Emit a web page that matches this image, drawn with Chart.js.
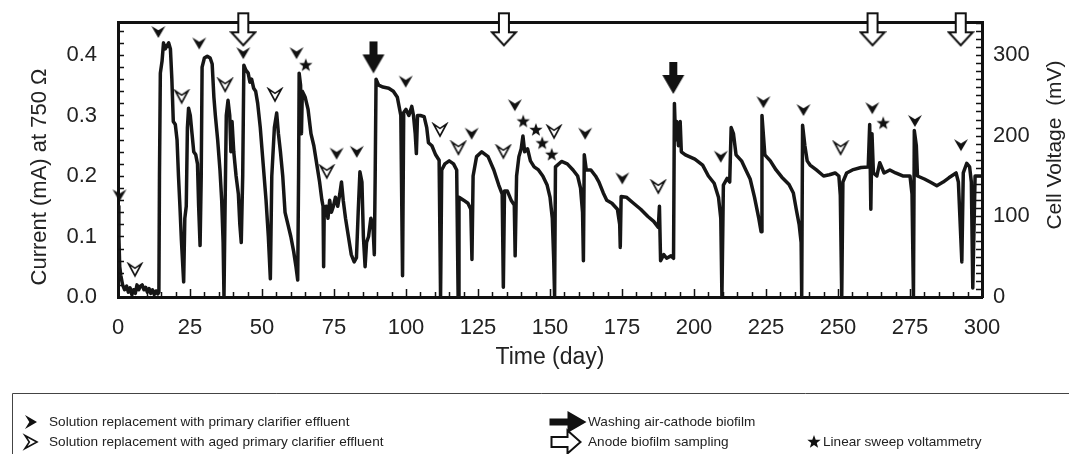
<!DOCTYPE html>
<html><head><meta charset="utf-8">
<script src="https://cdn.jsdelivr.net/npm/chart.js@4.4.1/dist/chart.umd.min.js"></script>
<style>html,body{margin:0;padding:0;background:#fff;}canvas{display:block;}</style>
</head><body>
<canvas id="c" width="1069" height="454"></canvas>
<script>
// ---- data ----
const days = [0,0.3,0.6,1.0,1.6,2.3,3.0,3.6,4.2,4.8,5.4,6.0,6.6,7.2,7.8,8.4,9.0,9.6,10.2,10.8,11.4,12.0,12.6,13.2,13.8,14.2,
14.4,14.7,15.3,15.8,16.4,17.0,17.6,18.2,18.7,19.2,19.9,20.5,21.0,21.5,22.0,22.8,23.2,23.7,24.1,24.5,25.1,25.7,26.3,27.0,27.6,28.0,28.5,
28.9,29.2,30.0,31.0,32.0,32.7,33.3,33.8,34.6,35.4,36.0,36.5,36.8,37.1,37.6,38.2,38.8,39.2,39.6,40.2,41.0,41.8,42.3,42.8,
43.3,43.7,44.4,45.2,45.8,46.4,47.1,47.8,48.5,49.4,50.4,51.4,52.2,52.9,53.4,54.3,55.1,55.7,56.4,57.2,58.0,59.0,60.0,61.0,61.8,62.4,
62.7,62.9,63.4,63.7,64.0,65.0,66.0,67.0,68.0,69.0,70.0,70.8,71.2,71.4,71.6,72.3,72.9,73.5,74.1,74.8,75.5,76.3,77.0,77.6,78.2,79.0,80.0,81.0,82.0,82.8,
83.4,84.0,84.7,85.2,85.8,86.3,87.0,87.8,88.5,89.0,89.3,89.6,90.5,92.0,94.0,95.6,97.0,98.2,98.8,99.2,100.0,101.0,102.0,102.6,103.2,103.6,104.0,
105.0,106.3,107.2,107.8,109.0,110.3,111.5,112.0,112.4,113.5,115.0,116.5,117.6,118.1,118.4,120.0,121.5,122.5,122.9,123.3,124.5,126.3,128.5,130.5,
132.2,133.4,133.8,134.2,135.2,136.5,137.6,137.9,138.4,139.2,140.0,140.6,141.2,142.2,143.2,144.5,146.0,147.5,149.0,150.0,150.8,151.3,151.6,151.9,
154.0,156.0,158.0,159.6,160.6,161.3,161.6,161.9,162.6,164.2,165.8,167.0,168.5,169.7,171.5,173.4,174.2,174.4,174.7,176.5,179.0,181.5,184.0,186.0,
187.6,188.0,188.4,189.5,190.5,192.0,192.9,193.2,193.6,194.0,194.6,195.2,195.6,197.0,200.3,203.0,205.0,207.0,208.5,209.3,209.7,210.2,211.5,212.4,
212.9,213.7,214.6,216.5,218.0,219.5,221.0,222.5,223.3,223.6,224.6,226.5,228.5,230.5,233.0,234.5,235.5,236.5,237.2,237.4,237.7,238.5,239.3,240.3,
242.5,245.0,247.0,249.0,250.3,250.8,251.3,251.7,253.0,255.0,258.0,260.5,261.0,261.4,261.8,262.3,263.5,264.5,266.0,268.0,270.0,272.5,275.0,275.7,
276.2,276.5,277.2,277.6,280.0,282.0,284.3,286.5,288.5,291.0,291.8,292.3,293.0,293.5,294.7,295.7,296.3,296.8,297.6,300.0];
const current = [0.15,0.10,0.05,0.035,0.02,0.012,0.018,0.008,0.015,0.004,0.012,0.006,0.02,0.012,0.018,0.02,0.012,0.016,0.008,0.014,0.006,0.012,0.004,0.01,0.005,0.008,
0.2,0.37,0.39,0.42,0.41,0.415,0.42,0.41,0.36,0.29,0.285,0.26,0.2,0.15,0.095,0.025,0.13,0.15,0.28,0.312,0.30,0.27,0.24,0.235,0.22,0.15,0.085,
0.2,0.38,0.395,0.398,0.395,0.385,0.33,0.30,0.26,0.21,0.16,0.09,0.0,0.12,0.30,0.325,0.30,0.24,0.29,0.24,0.2,0.17,0.12,0.09,
0.2,0.383,0.375,0.37,0.355,0.36,0.345,0.34,0.32,0.28,0.22,0.16,0.1,0.03,0.2,0.28,0.304,0.27,0.24,0.2,0.14,0.12,0.1,0.075,0.05,0.028,
0.2,0.37,0.35,0.27,0.34,0.33,0.31,0.27,0.25,0.22,0.19,0.16,0.15,0.05,0.14,0.15,0.13,0.16,0.14,0.15,0.165,0.15,0.17,0.19,0.16,0.13,0.1,0.07,0.058,0.065,
0.14,0.207,0.19,0.1,0.05,0.09,0.1,0.13,0.12,0.07,0.2,0.36,0.35,0.347,0.345,0.34,0.33,0.3,0.035,0.305,0.31,0.30,0.315,0.30,0.27,0.237,0.30,
0.30,0.298,0.28,0.255,0.25,0.235,0.226,0.0,0.21,0.22,0.225,0.22,0.21,0.0,0.165,0.16,0.155,0.145,0.062,0.2,0.232,0.24,0.232,0.21,
0.185,0.17,0.016,0.175,0.175,0.16,0.152,0.068,0.2,0.232,0.245,0.266,0.24,0.245,0.225,0.215,0.21,0.2,0.185,0.165,0.13,0.06,0.0,0.215,
0.224,0.22,0.21,0.2,0.18,0.14,0.06,0.235,0.21,0.21,0.2,0.19,0.172,0.16,0.155,0.145,0.12,0.082,0.166,0.165,0.155,0.145,0.133,0.125,
0.115,0.15,0.06,0.07,0.064,0.068,0.064,0.32,0.26,0.29,0.25,0.29,0.24,0.235,0.228,0.218,0.2,0.188,0.165,0.13,0.0,0.185,0.196,0.19,
0.28,0.27,0.235,0.225,0.21,0.195,0.165,0.13,0.108,0.3,0.235,0.225,0.21,0.198,0.186,0.172,0.145,0.12,0.09,0.0,0.284,0.25,0.225,0.218,
0.21,0.2,0.202,0.205,0.2,0.168,0.0,0.19,0.205,0.21,0.214,0.215,0.285,0.145,0.27,0.205,0.2,0.222,0.205,0.21,0.205,0.2,0.2,0.17,
0.0,0.275,0.25,0.2,0.195,0.19,0.184,0.19,0.197,0.205,0.19,0.135,0.058,0.205,0.221,0.215,0.19,0.015,0.2,0.2];

const primaryDays = [0.5,14,28.2,43.5,62,75.9,82.9,99.9,122.8,137.8,162.2,175.1,209.3,224.1,238,261.9,276.7,292.7];
const primaryVals = [0.168,0.438,0.419,0.403,0.403,0.237,0.24,0.356,0.27,0.317,0.27,0.196,0.232,0.322,0.309,0.312,0.291,0.251];
const agedDays = [5.9,22.1,37.2,54.5,72.5,111.8,118.2,133.8,151.4,187.6,250.9];
const agedVals = [0.045,0.331,0.35,0.334,0.207,0.276,0.246,0.24,0.273,0.182,0.246];
const lsvDays = [65.2,140.7,145.1,147.3,150.6,265.7];
const lsvVals = [0.383,0.29,0.276,0.254,0.235,0.287];
const washDays = [88.7,192.8];
const washVals = [0.396,0.362];
const sampleDays = [43.5,134.0,262.0,292.6];
const sampleVals = [0.4425,0.4425,0.4425,0.4425];

const xTickLabels = [0,25,50,75,100,125,150,175,200,225,250,275,300];
const yTickLabels = [0.0,0.1,0.2,0.3,0.4];
const y2TickLabels = [0,100,200,300];
const Y_MAX = 0.4545, OHMS = 750;

const legendLeft = ['Solution replacement with primary clarifier effluent','Solution replacement with aged primary clarifier effluent'];
const legendRight = ['Washing air-cathode biofilm','Anode biofilm sampling','Linear sweep voltammetry'];

// ---- marker shapes ----
const FONT = '"Liberation Sans", Arial, Helvetica, sans-serif';
function pathArrowhead(g, w, h) { // pointing down, centered at 0,0
  g.beginPath();
  g.moveTo(0, h/2); g.lineTo(w/2, -h/2); g.lineTo(0, -h/2 + h*0.36); g.lineTo(-w/2, -h/2); g.closePath();
}
function pathArrow(g, shaftW, shaftL, headW, headL) { // pointing down, centered
  const L = shaftL + headL, t = -L/2;
  g.beginPath();
  g.moveTo(-shaftW/2, t); g.lineTo(shaftW/2, t); g.lineTo(shaftW/2, t+shaftL);
  g.lineTo(headW/2, t+shaftL); g.lineTo(0, t+L); g.lineTo(-headW/2, t+shaftL);
  g.lineTo(-shaftW/2, t+shaftL); g.closePath();
}
function pathStar(g, R, r) {
  g.beginPath();
  for (let i = 0; i < 10; i++) {
    const a = -Math.PI/2 + i*Math.PI/5, rr = i % 2 ? r : R;
    g.lineTo(rr*Math.cos(a), rr*Math.sin(a));
  }
  g.closePath();
}
const shapes = {
  primary: (g) => { pathArrowhead(g, 14, 12); g.fillStyle = '#111'; g.fill(); },
  aged: (g) => { pathArrowhead(g, 13, 12); g.fillStyle = '#fff'; g.fill(); g.lineWidth = 1.6; g.strokeStyle = '#111'; g.lineJoin='miter'; g.stroke(); },
  star: (g) => { pathStar(g, 7, 2.9); g.fillStyle = '#111'; g.fill(); },
  wash: (g) => { pathArrow(g, 8, 13, 22, 19); g.fillStyle = '#111'; g.fill(); },
  sample: (g) => { pathArrow(g, 10, 19, 24, 13); g.fillStyle = '#fff'; g.fill(); g.lineWidth = 2; g.strokeStyle = '#111'; g.stroke(); }
};
function markerImage(name, w, h) {
  const c = document.createElement('canvas'); c.width = w; c.height = h;
  const g = c.getContext('2d'); g.translate(w/2, h/2); shapes[name](g); return c;
}
const imgPrimary = markerImage('primary', 18, 16);
const imgAged = markerImage('aged', 18, 16);
const imgStar = markerImage('star', 18, 18);
const imgWash = markerImage('wash', 26, 36);
const imgSample = markerImage('sample', 28, 36);

function pts(xs, ys) { return xs.map((x, i) => ({x, y: ys[i]})); }
function noPad(s) { s.paddingTop = 0; s.paddingBottom = 0; s.paddingLeft = 0; s.paddingRight = 0; }

// ---- plugins ----
const inwardTicks = {
  id: 'inwardTicks',
  afterDraw(chart) {
    const {ctx, chartArea: a, scales} = chart;
    ctx.save(); ctx.strokeStyle = '#111'; ctx.lineWidth = 1.5;
    ctx.beginPath();
    for (let v = 5; v < 300; v += 5) {
      const px = Math.round(scales.x.getPixelForValue(v)) + 0.5;
      const len = v % 25 === 0 ? 8 : 5;
      ctx.moveTo(px, a.bottom); ctx.lineTo(px, a.bottom - len);
    }
    for (let k = 1; k <= 22; k++) {
      const py = Math.round(scales.y.getPixelForValue(k*0.02)) + 0.5;
      ctx.moveTo(a.left, py); ctx.lineTo(a.left + 6, py);
    }
    for (let v = 10; v < 341; v += 10) {
      const py = Math.round(scales.y2.getPixelForValue(v)) + 0.5;
      ctx.moveTo(a.right, py); ctx.lineTo(a.right - 6, py);
    }
    ctx.stroke();
    // vertical axis titles (both read bottom-to-top)
    ctx.fillStyle = '#222'; ctx.textAlign = 'center'; ctx.textBaseline = 'middle';
    ctx.font = '22px ' + FONT;
    ctx.save(); ctx.translate(40, 177); ctx.rotate(-Math.PI/2);
    ctx.fillText(chart.options.scales.y.title.text, 0, 0); ctx.restore();
    ctx.font = '21px ' + FONT;
    ctx.save(); ctx.translate(1055, 145); ctx.rotate(-Math.PI/2);
    ctx.fillText(chart.options.scales.y2.title.text, 0, 0); ctx.restore();
    ctx.restore();
  }
};
const legendBox = {
  id: 'legendBox',
  afterDraw(chart) {
    const ctx = chart.ctx;
    ctx.save();
    ctx.strokeStyle = '#444'; ctx.lineWidth = 1;
    ctx.beginPath(); ctx.moveTo(12.5, 460); ctx.lineTo(12.5, 393.5); ctx.lineTo(1075, 393.5); ctx.stroke();
    const r1 = 422, r2 = 442;
    const draw = (name, x, y, rot) => { ctx.save(); ctx.translate(x, y); ctx.rotate(rot); shapes[name](ctx); ctx.restore(); };
    draw('primary', 31, r1, -Math.PI/2);
    draw('aged', 31, r2, -Math.PI/2);
    ctx.save(); ctx.translate(568, r1); ctx.rotate(-Math.PI/2); pathArrow(ctx, 7, 18, 22, 19); ctx.fillStyle='#111'; ctx.fill(); ctx.restore();
    ctx.save(); ctx.translate(566, r2); ctx.rotate(-Math.PI/2); pathArrow(ctx, 10, 16, 23, 13); ctx.fillStyle='#fff'; ctx.fill(); ctx.lineWidth=2; ctx.strokeStyle='#111'; ctx.stroke(); ctx.restore();
    draw('star', 814, r2, 0);
    ctx.fillStyle = '#222'; ctx.font = '13.6px ' + FONT; ctx.textAlign = 'left'; ctx.textBaseline = 'middle';
    ctx.fillText(legendLeft[0], 49, r1);
    ctx.fillText(legendLeft[1], 49, r2);
    ctx.fillText(legendRight[0], 588, r1);
    ctx.fillText(legendRight[1], 588, r2);
    ctx.fillText(legendRight[2], 823, r2);
    ctx.restore();
  }
};

const tickFont = {family: FONT, size: 22};
new Chart(document.getElementById('c'), {
  type: 'line',
  data: {
    datasets: [
      {type: 'scatter', data: pts(primaryDays, primaryVals), pointStyle: imgPrimary, pointRadius: 7, order: 0, clip: false, xAxisID: 'x', yAxisID: 'y'},
      {type: 'scatter', data: pts(agedDays, agedVals), pointStyle: imgAged, pointRadius: 7, order: 0, clip: false, xAxisID: 'x', yAxisID: 'y'},
      {type: 'scatter', data: pts(lsvDays, lsvVals), pointStyle: imgStar, pointRadius: 7, order: 0, clip: false, xAxisID: 'x', yAxisID: 'y'},
      {type: 'scatter', data: pts(washDays, washVals), pointStyle: imgWash, pointRadius: 15, order: 0, clip: false, xAxisID: 'x', yAxisID: 'y'},
      {type: 'scatter', data: pts(sampleDays, sampleVals), pointStyle: imgSample, pointRadius: 15, order: 0, clip: false, xAxisID: 'x', yAxisID: 'y'},
      {type: 'line', data: pts(days, current), borderColor: '#161616', borderWidth: 3.5, pointRadius: 0,
       tension: 0, borderJoinStyle: 'round', order: 1, xAxisID: 'x', yAxisID: 'y'}
    ]
  },
  options: {
    responsive: false, animation: false, devicePixelRatio: 1,
    layout: {padding: {left: 0, right: 0, top: 0, bottom: 74}},
    plugins: {legend: {display: false}, tooltip: {enabled: false}},
    scales: {
      x: {type: 'linear', position: 'bottom', min: 0, max: 300,
          afterBuildTicks: s => { s.ticks = xTickLabels.map(v => ({value: v})); },
          afterFit: s => { s.height = 83; noPad(s); },
          ticks: {font: tickFont, color: '#222', padding: 18, autoSkip: false, maxRotation: 0},
          grid: {display: false, drawTicks: false},
          border: {display: true, color: '#111', width: 3},
          title: {display: true, text: 'Time (day)', font: {family: FONT, size: 23}, color: '#222', padding: {top: 0, bottom: 9}}},
      xTop: {type: 'linear', position: 'top', min: 0, max: 300,
          afterFit: s => { s.height = 22; noPad(s); },
          ticks: {display: false}, grid: {display: false, drawTicks: false},
          border: {display: true, color: '#111', width: 3}},
      y: {type: 'linear', position: 'left', min: 0, max: Y_MAX,
          afterBuildTicks: s => { s.ticks = yTickLabels.map(v => ({value: v})); },
          afterFit: s => { s.width = 118; noPad(s); },
          ticks: {font: tickFont, color: '#222', padding: 21, callback: v => Number(v).toFixed(1)},
          grid: {display: false, drawTicks: false},
          border: {display: true, color: '#111', width: 3},
          title: {display: false, text: 'Current (mA) at 750 \u03A9'}},
      y2: {type: 'linear', position: 'right', min: 0, max: Y_MAX * OHMS, display: true,
          afterBuildTicks: s => { s.ticks = y2TickLabels.map(v => ({value: v})); },
          afterFit: s => { s.width = 87; noPad(s); },
          ticks: {font: tickFont, color: '#222', padding: 11},
          grid: {display: false, drawTicks: false},
          border: {display: true, color: '#111', width: 3},
          title: {display: false, text: 'Cell Voltage  (mV)'}}
    }
  },
  plugins: [inwardTicks, legendBox]
});
</script>
</body></html>
